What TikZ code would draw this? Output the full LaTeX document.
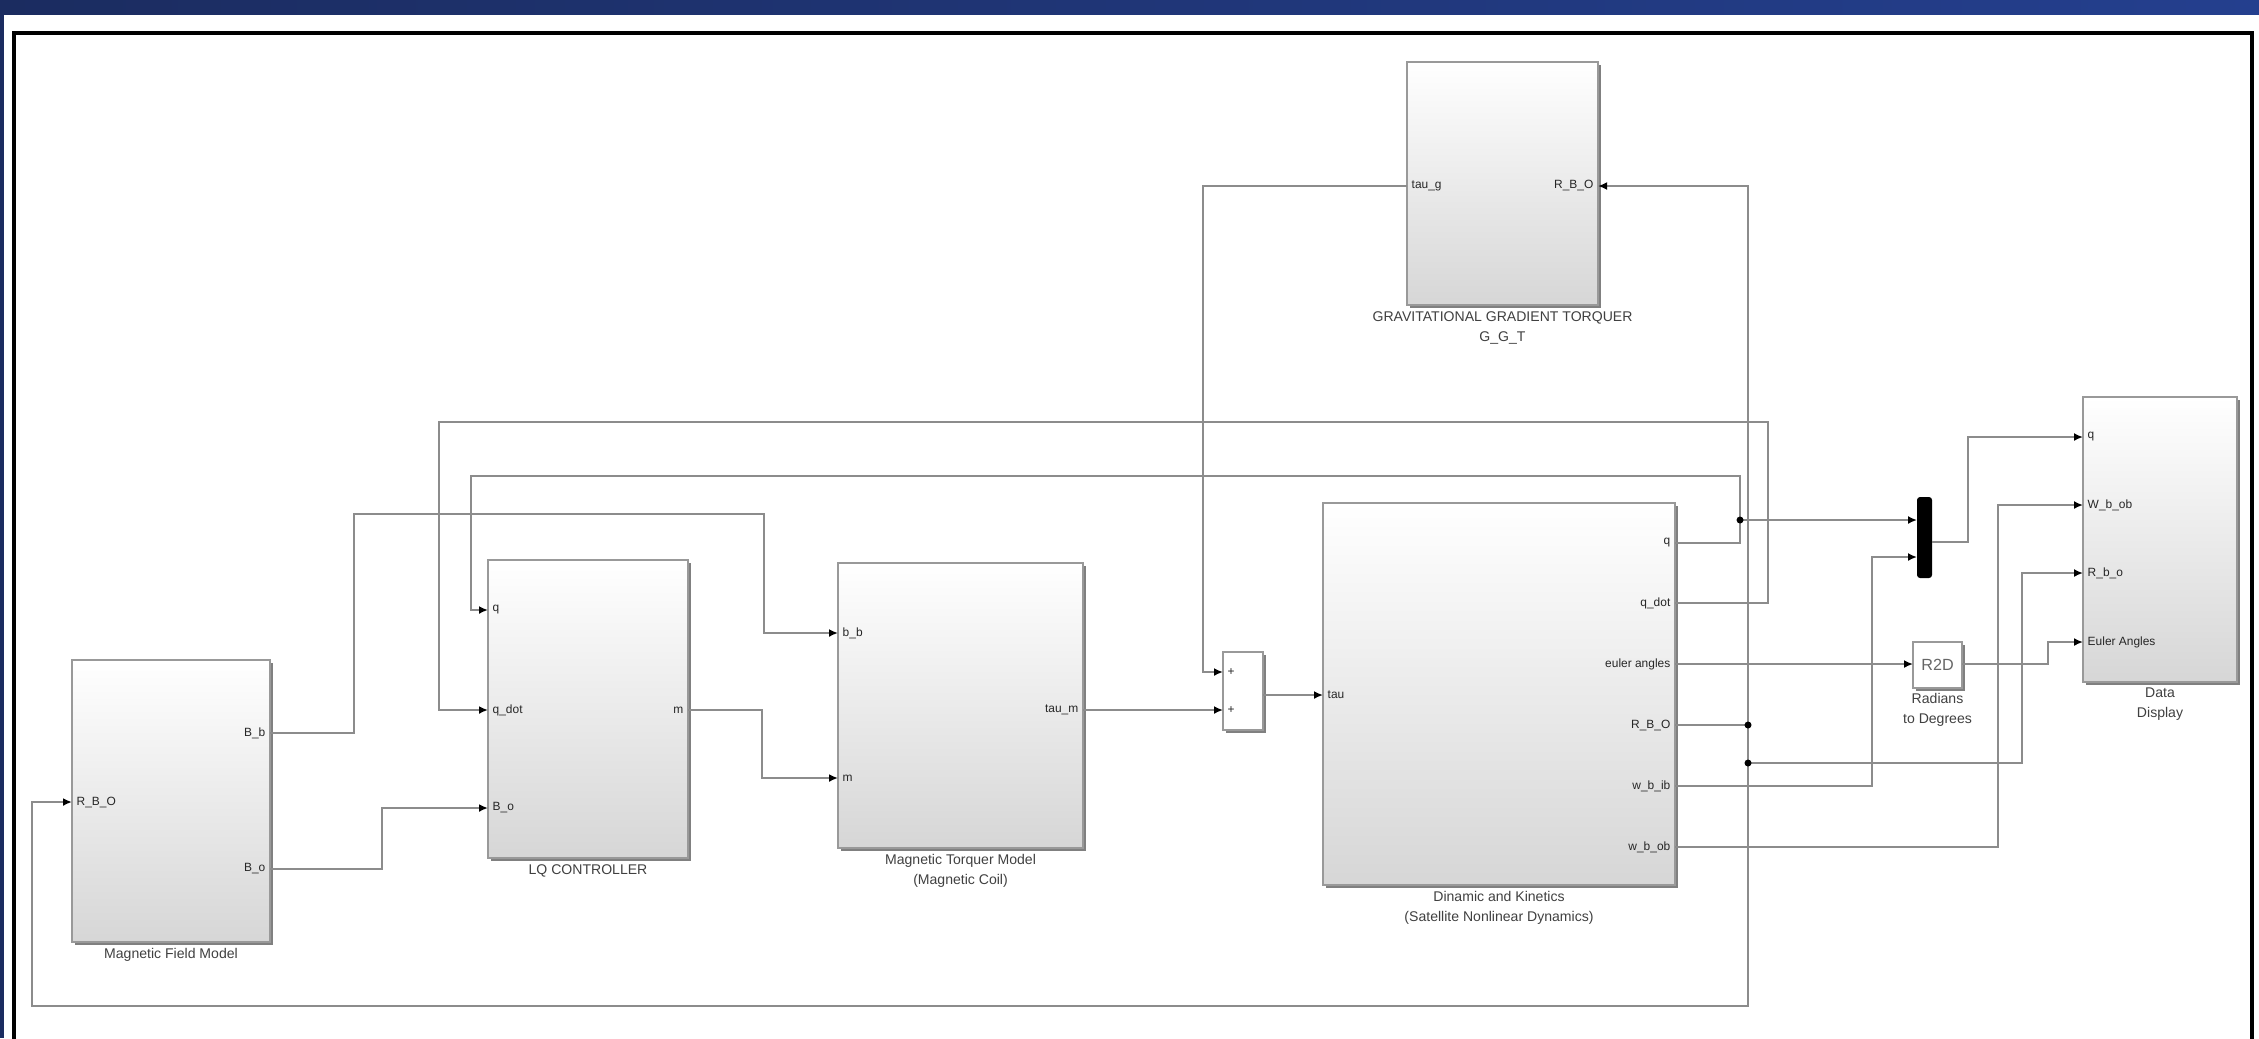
\documentclass[tikz,border=0pt]{standalone}
\usepackage{fontspec}
\setmainfont{Liberation Sans}
\usetikzlibrary{arrows.meta,shadows}
\definecolor{barleft}{HTML}{1B2C60}
\definecolor{barright}{HTML}{243F8E}
\begin{document}
\begin{tikzpicture}[x=0.1mm, y=-0.1mm,
    every node/.style={font=\fontsize{4}{5.7}\selectfont},
    block/.style={draw=black!40, line width=0.5pt, top color=white, bottom color=black!16, inner sep=0pt,
        drop shadow={shadow xshift=0.3mm, shadow yshift=-0.3mm, fill=black!50, opacity=1}},
    wire/.style={draw=black!45, line width=0.75pt},
    sig/.style={wire, -{Latex[length=0.9mm, width=0.8mm, color=black]}},
    port/.style={font=\fontsize{3.4}{4}\selectfont, text=black!85, inner sep=0.4mm},
    caption/.style={text=black!75, align=center, inner sep=0pt},
    junc/.style={circle, fill=black, inner sep=0pt, minimum size=0.7mm}]
    \useasboundingbox (0,0) rectangle (2259,1038);

    % window frame
    \fill[left color=barleft, right color=barright] (0,0) rectangle (2259,14);
    \fill[barleft] (0,14) rectangle (4,1038);
    \draw[line width=1.1pt] (14,1045) -- (14,33) -- (2252,33) -- (2252,1045);

    % blocks
    \node[block, minimum width=19.8mm, minimum height=28.2mm] (mfm) at (171,801) {};
    \node[block, minimum width=20mm, minimum height=29.8mm] (lqr) at (588,709) {};
    \node[block, minimum width=24.5mm, minimum height=28.5mm] (mtm) at (960.5,705.5) {};
    \node[block, minimum width=4mm, minimum height=7.8mm, top color=white, bottom color=white] (sum) at (1243,691) {};
    \node[block, minimum width=35.2mm, minimum height=38.2mm] (dyn) at (1499,694) {};
    \node[block, minimum width=19.1mm, minimum height=24.3mm] (ggt) at (1502.5,183.5) {};
    \node[fill=black, rounded corners=0.3mm, minimum width=1.5mm, minimum height=8.1mm, inner sep=0pt] (mux) at (1924.5,537.5) {};
    \node[block, minimum width=4.9mm, minimum height=4.6mm, top color=white, bottom color=white,
        font=\fontsize{4.6}{5}\selectfont, text=black!60] (rtod) at (1937.5,665) {R2D};
    \node[block, minimum width=15.4mm, minimum height=28.5mm] (disp) at (2160,539.5) {};

    % captions
    \node[caption, anchor=north] (mfm-cap) at ([yshift=-0.5mm]mfm.south) {Magnetic Field Model};
    \node[caption, anchor=north] (lqr-cap) at ([yshift=-0.5mm]lqr.south) {LQ CONTROLLER};
    \node[caption, anchor=north] (mtm-cap) at ([yshift=-0.5mm]mtm.south) {Magnetic Torquer Model\\(Magnetic Coil)};
    \node[caption, anchor=north] (dyn-cap) at ([yshift=-0.5mm]dyn.south) {Dinamic and Kinetics\\(Satellite Nonlinear Dynamics)};
    \node[caption, anchor=north] (ggt-cap) at ([yshift=-0.5mm]ggt.south) {GRAVITATIONAL GRADIENT TORQUER\\G\_G\_T};
    \node[caption, anchor=north] (rtod-cap) at ([yshift=-0.4mm]rtod.south) {Radians\\to Degrees};
    \node[caption, anchor=north] (disp-cap) at ([yshift=-0.4mm]disp.south) {Data\\Display};

    % ports
    \coordinate (mfm-in) at (72,802);
    \coordinate (mfm-o1) at (270,733);
    \coordinate (mfm-o2) at (270,869);
    \coordinate (lqr-i1) at (488,610);
    \coordinate (lqr-i2) at (488,710);
    \coordinate (lqr-i3) at (488,808);
    \coordinate (lqr-o) at (688,710);
    \coordinate (mtm-i1) at (838,633);
    \coordinate (mtm-i2) at (838,778);
    \coordinate (mtm-o) at (1083,710);
    \coordinate (sum-i1) at (1223,672);
    \coordinate (sum-i2) at (1223,710);
    \coordinate (sum-o) at (1263,695);
    \coordinate (dyn-i) at (1323,695);
    \coordinate (dyn-q) at (1675,543);
    \coordinate (dyn-qd) at (1675,603);
    \coordinate (dyn-eul) at (1675,664);
    \coordinate (dyn-rbo) at (1675,725);
    \coordinate (dyn-wib) at (1675,786);
    \coordinate (dyn-wob) at (1675,847);
    \coordinate (ggt-o) at (1407,186);
    \coordinate (ggt-i) at (1598,186);
    \coordinate (mux-i1) at (1917,520);
    \coordinate (mux-i2) at (1917,557);
    \coordinate (mux-o) at (1932,542);
    \coordinate (rtod-i) at (1913,664);
    \coordinate (rtod-o) at (1962,664);
    \coordinate (disp-i1) at (2083,437);
    \coordinate (disp-i2) at (2083,505);
    \coordinate (disp-i3) at (2083,573);
    \coordinate (disp-i4) at (2083,642);

    % port labels
    \node[port, anchor=west] at (mfm-in) {R\_B\_O};
    \node[port, anchor=east] at (mfm-o1) {B\_b};
    \node[port, anchor=east] at (mfm-o2) {B\_o};
    \node[port, anchor=west] at (lqr-i1) {q};
    \node[port, anchor=west] at (lqr-i2) {q\_dot};
    \node[port, anchor=west] at (lqr-i3) {B\_o};
    \node[port, anchor=east] at (lqr-o) {m};
    \node[port, anchor=west] at (mtm-i1) {b\_b};
    \node[port, anchor=west] at (mtm-i2) {m};
    \node[port, anchor=east] at (mtm-o) {tau\_m};
    \node[port, anchor=west] at (sum-i1) {+};
    \node[port, anchor=west] at (sum-i2) {+};
    \node[port, anchor=west] at (dyn-i) {tau};
    \node[port, anchor=east] at (dyn-q) {q};
    \node[port, anchor=east] at (dyn-qd) {q\_dot};
    \node[port, anchor=east] at (dyn-eul) {euler angles};
    \node[port, anchor=east] at (dyn-rbo) {R\_B\_O};
    \node[port, anchor=east] at (dyn-wib) {w\_b\_ib};
    \node[port, anchor=east] at (dyn-wob) {w\_b\_ob};
    \node[port, anchor=west] at (ggt-o) {tau\_g};
    \node[port, anchor=east] at (ggt-i) {R\_B\_O};
    \node[port, anchor=west] at (disp-i1) {q};
    \node[port, anchor=west] at (disp-i2) {W\_b\_ob};
    \node[port, anchor=west] at (disp-i3) {R\_b\_o};
    \node[port, anchor=west] at (disp-i4) {Euler Angles};

    % junction points
    \coordinate (jq) at (1740,520);
    \coordinate (jr1) at (1748,725);
    \coordinate (jr2) at (1748,763);

    % signal lines
    \draw[sig] (mfm-o1) -| (354,514) -| (764,633) -- (mtm-i1);
    \draw[sig] (mfm-o2) -| (382,808) -- (lqr-i3);
    \draw[sig] (lqr-o) -| (762,778) -- (mtm-i2);
    \draw[sig] (mtm-o) -- (sum-i2);
    \draw[sig] (sum-o) -- (dyn-i);
    \draw[sig] (ggt-o) -| (1203,672) -- (sum-i1);
    \draw[wire] (dyn-q) -| (jq);
    \draw[sig] (jq) -- (mux-i1);
    \draw[sig] (jq) |- (471,476) |- (lqr-i1);
    \draw[sig] (dyn-qd) -| (1768,422) -| (439,710) -- (lqr-i2);
    \draw[sig] (dyn-eul) -- (rtod-i);
    \draw[sig] (rtod-o) -| (2048,642) -- (disp-i4);
    \draw[wire] (dyn-rbo) -- (jr1) -- (jr2);
    \draw[sig] (jr1) |- (ggt-i);
    \draw[sig] (jr2) -- (1748,1006) -| (32,802) -- (mfm-in);
    \draw[sig] (jr2) -| (2022,573) -- (disp-i3);
    \draw[sig] (dyn-wib) -| (1872,557) -- (mux-i2);
    \draw[sig] (dyn-wob) -| (1998,505) -- (disp-i2);
    \draw[sig] (mux-o) -| (1968,437) -- (disp-i1);

    % branch dots
    \foreach \j in {jq, jr1, jr2}
        \node[junc] at (\j) {};
\end{tikzpicture}
\end{document}
